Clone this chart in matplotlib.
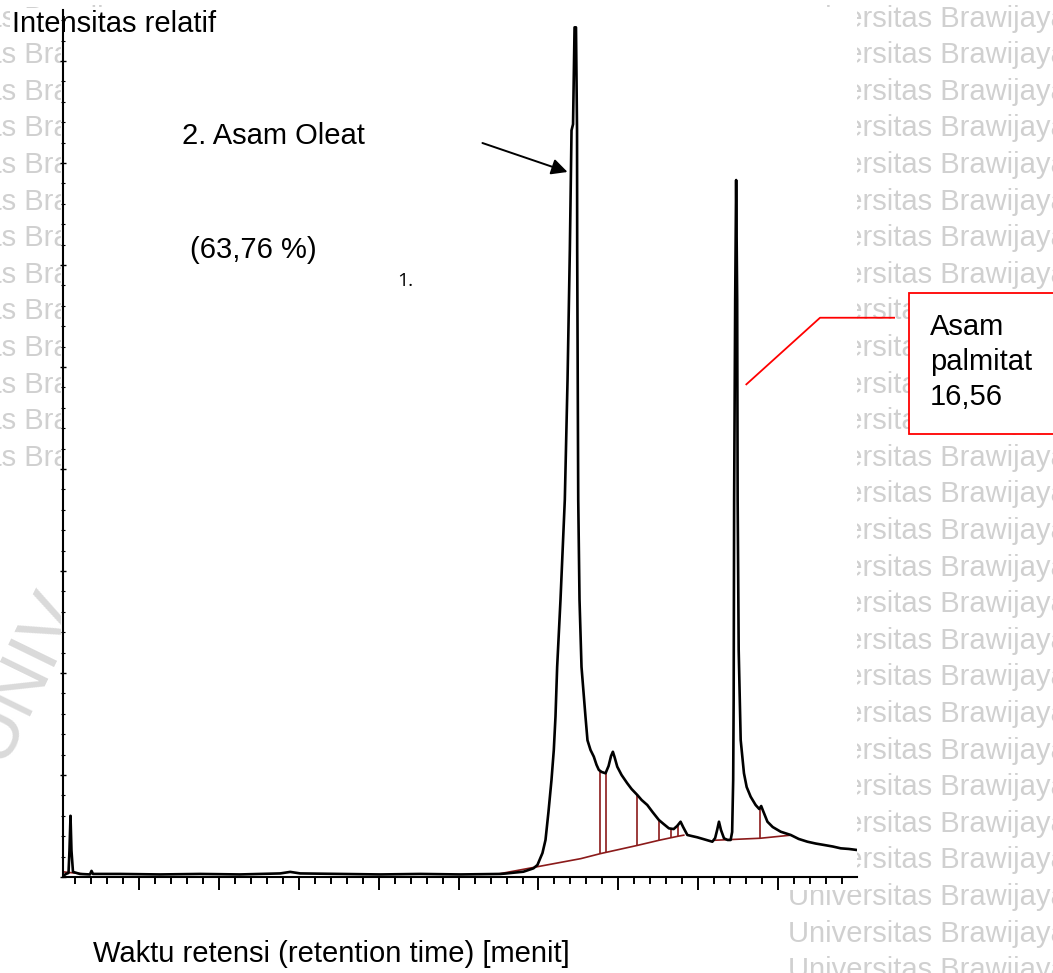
import matplotlib
matplotlib.use("Agg")

import numpy as np
import matplotlib.pyplot as plt
from matplotlib.patches import Rectangle
from matplotlib.ticker import MultipleLocator

plt.rcParams["font.family"] = ["Liberation Sans", "DejaVu Sans"]

# GC trace: retention time [min] vs relative intensity
retention_time = [
    0.044, 0.082, 0.113, 0.125, 0.138, 0.150, 0.169, 0.257, 0.382, 0.401,
    0.420, 0.759, 1.26, 1.762, 2.26, 2.765, 2.89, 3.016, 3.517, 4.019,
    4.52, 5.022, 5.524, 5.586, 5.812, 5.937, 5.987, 6.05, 6.088, 6.125,
    6.163, 6.192, 6.213, 6.234, 6.276, 6.33, 6.364, 6.393, 6.414, 6.433,
    6.452, 6.470, 6.483, 6.485, 6.498, 6.514, 6.539, 6.589, 6.614, 6.652,
    6.693, 6.727, 6.756, 6.79, 6.84, 6.878, 6.909, 6.932, 6.953, 6.987,
    7.041, 7.112, 7.166, 7.238, 7.292, 7.363, 7.429, 7.508, 7.567, 7.634,
    7.693, 7.737, 7.78, 7.812, 7.865, 7.918, 7.99, 8.082, 8.178, 8.213,
    8.238, 8.261, 8.286, 8.324, 8.37, 8.407, 8.426, 8.439, 8.445, 8.451,
    8.464, 8.476, 8.489, 8.495, 8.508, 8.533, 8.574, 8.608, 8.658, 8.72,
    8.765, 8.79, 8.809, 8.868, 8.934, 9.034, 9.16, 9.26, 9.369, 9.473,
    9.577, 9.686, 9.787, 9.887, 9.987,
]
intensity = [
    0.01, 0.03, 0.04, 0.26, 0.60, 0.26, 0.05, 0.03, 0.025, 0.06,
    0.03, 0.03, 0.025, 0.03, 0.025, 0.035, 0.05, 0.035, 0.03, 0.025,
    0.03, 0.025, 0.03, 0.034, 0.052, 0.085, 0.118, 0.235, 0.363, 0.637,
    0.951, 1.245, 1.57, 2.06, 2.72, 3.70, 4.87, 6.15, 7.32, 7.38,
    8.33, 8.33, 7.32, 6.15, 3.70, 2.72, 2.06, 1.57, 1.34, 1.245,
    1.18, 1.10, 1.05, 1.03, 1.017, 1.088, 1.186, 1.228, 1.176, 1.081,
    1.0, 0.919, 0.863, 0.804, 0.755, 0.706, 0.637, 0.559, 0.52, 0.477,
    0.47, 0.50, 0.542, 0.49, 0.412, 0.402, 0.389, 0.368, 0.346, 0.382,
    0.461, 0.542, 0.461, 0.379, 0.363, 0.363, 0.441, 0.951, 1.735, 3.696,
    5.657, 6.833, 5.657, 3.696, 2.225, 1.343, 1.017, 0.882, 0.787, 0.706,
    0.667, 0.696, 0.657, 0.542, 0.49, 0.444, 0.412, 0.373, 0.346, 0.328,
    0.314, 0.299, 0.281, 0.275, 0.265,
]

# integration baselines and peak split times
base_start_time = [0.05, 0.30]
base_start_int = [0.05, 0.03]
base_main_time = [5.50, 6.53, 6.78, 7.24, 7.51, 7.75, 7.82]
base_main_int = [0.03, 0.18, 0.23, 0.31, 0.36, 0.40, 0.41]
base_tail_time = [8.20, 8.78, 9.16]
base_tail_int = [0.36, 0.38, 0.41]
split_time = [6.77, 6.85, 7.24, 7.51, 7.655, 7.75, 8.78]

WATERMARK = "Universitas Brawijaya"
W, H = 1053, 973
FS = 21
RED_DARK = "#8b1a1a"
WM_GREY = "#d0d0d0"


def fx(px):
    return px / W


def fy(py):
    return 1 - py / H


fig = plt.figure(figsize=(W / 100, H / 100), dpi=100)

# background watermark rows
for k in range(27):
    yb = 19 + 36.6 * k + 7.6
    fig.text(fx(787.5), fy(yb), WATERMARK, color=WM_GREY, fontsize=FS,
             va="baseline", zorder=0.5)
for k in range(13):
    yb = 19 + 36.6 * k + 7.6
    fig.text(fx(-128), fy(yb), WATERMARK, color=WM_GREY, fontsize=FS,
             va="baseline", zorder=0.5)
fig.text(fx(2), fy(765), "UNIV", rotation=64, rotation_mode="anchor",
         color="#dadada", fontsize=54, va="baseline", zorder=0.5)

# white chart panel
fig.patches.append(Rectangle((fx(61), fy(890)), (857 - 61) / W, (890 - 7) / H,
                             transform=fig.transFigure, facecolor="white",
                             edgecolor="none", zorder=1))

ax = fig.add_axes([fx(63), fy(877), (857 - 63) / W, (877 - 10) / H])
ax.set_zorder(2)
ax.patch.set_visible(False)

ax.plot(retention_time, intensity, color="black", lw=1.9,
        solid_joinstyle="round", zorder=3)

ax.plot(base_start_time, base_start_int, color=RED_DARK, lw=1.2, zorder=2)
ax.plot(base_main_time, base_main_int, color=RED_DARK, lw=1.2, zorder=2)
ax.plot(base_tail_time, base_tail_int, color=RED_DARK, lw=1.2, zorder=2)

base_t = base_main_time + base_tail_time
base_i = base_main_int + base_tail_int
tops = np.interp(split_time, retention_time, intensity)
bottoms = np.interp(split_time, base_t, base_i)
ax.vlines(split_time, bottoms, tops, color=RED_DARK, lw=1.2, zorder=2)

ax.set_xlim(0.044, 9.99)
ax.set_ylim(0, 8.5)
for side in ("top", "right"):
    ax.spines[side].set_visible(False)
for side in ("left", "bottom"):
    ax.spines[side].set_linewidth(1.5)

ax.xaxis.set_major_locator(MultipleLocator(1))
ax.xaxis.set_minor_locator(MultipleLocator(0.2))
ax.yaxis.set_major_locator(MultipleLocator(1))
ax.yaxis.set_minor_locator(MultipleLocator(0.2))
ax.tick_params(axis="x", which="major", direction="out", length=9.5, width=1.4)
ax.tick_params(axis="x", which="minor", direction="out", length=5, width=1.4)
ax.tick_params(axis="y", which="major", direction="inout", length=4, width=1.0)
ax.tick_params(axis="y", which="minor", direction="inout", length=2.5, width=0.8)
ax.tick_params(labelbottom=False, labelleft=False)

# oleic acid label and arrow
ax.annotate("", xy=(6.364, 6.912), xytext=(5.298, 7.196),
            arrowprops=dict(arrowstyle="-|>", color="black", lw=1.4,
                            mutation_scale=24, shrinkA=0, shrinkB=0))

# palmitic acid callout
ax.plot([8.604, 9.527, 10.455], [4.83, 5.483, 5.483], color="red", lw=1.3,
        clip_on=False, zorder=4)
fig.patches.append(Rectangle((fx(909.3), fy(434.3)), 1.02 - fx(909.3),
                             (434.3 - 293.3) / H, transform=fig.transFigure,
                             facecolor="white", edgecolor="red", lw=1.3,
                             zorder=2.5))
fig.text(fx(930), fy(361.7), "Asam\npalmitat\n16,56", fontsize=FS,
         va="center", linespacing=1.32, zorder=3)

fig.text(fx(11.7), fy(31.7), "Intensitas relatif", fontsize=FS, va="baseline",
         zorder=1.5, bbox=dict(facecolor="white", edgecolor="none", pad=1))
fig.text(fx(182), fy(143.5), "2. Asam Oleat", fontsize=FS, va="baseline")
fig.text(fx(190), fy(258.3), "(63,76 %)", fontsize=FS, va="baseline")
fig.text(fx(396.7), fy(286), "1.", fontsize=14, family="Open Sans",
         va="baseline")
fig.text(fx(93), fy(962), "Waktu retensi (retention time) [menit]",
         fontsize=FS, va="baseline")

fig.savefig("out.png", dpi=100)
